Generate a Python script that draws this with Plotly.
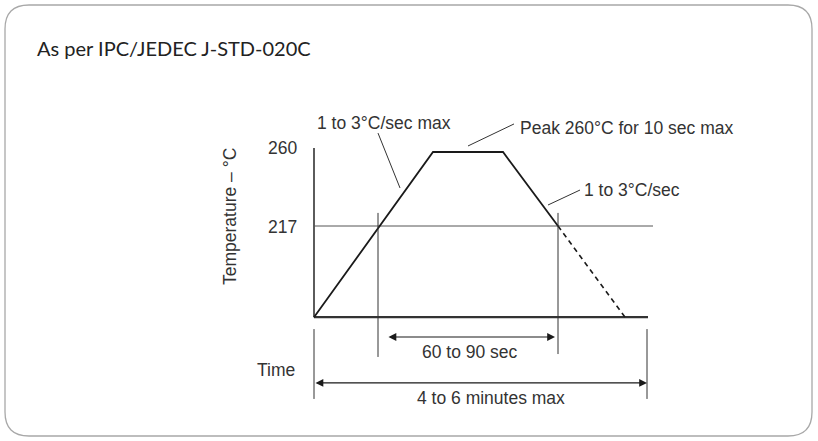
import plotly.graph_objects as go

# ---------------- data (schematic units: time t, temperature °C) ----------------
profile_time = [0, 119, 189, 244]
profile_temp = [164, 260, 260, 217]
cool_time = [244, 311]
cool_temp = [217, 164]
base_temp = 164
liquidus_temp = 217
peak_temp = 260
time_end = 334
liquidus_end = 339
tal_start, tal_end = 64, 244          # time above liquidus markers
total_start, total_end = 0, 333        # total profile markers
tick_vals = [260, 217]
tick_text = ["260", "217"]

title_text = "As per IPC/JEDEC J-STD-020C"
ramp_up_text = "1 to 3°C/sec max"
peak_text = "Peak 260°C for 10 sec max"
ramp_down_text = "1 to 3°C/sec"
tal_text = "60 to 90 sec"
total_text = "4 to 6 minutes max"
ylabel_text = "Temperature – °C"
xlabel_text = "Time"

# ---------------- figure geometry ----------------
W, H = 818, 441
X_RANGE = [-314, 504]
PX_PER_DEG = 74 / 43
Y_RANGE = [260 - (H - 152) / PX_PER_DEG, 260 + 152 / PX_PER_DEG]

LINE = "#1a1a1a"
GREY = "#555555"
TXT = "#333333"
FONT = "Liberation Sans"
FS = 17.5

fig = go.Figure()


def seg(xs, ys, color=LINE, width=1.2, dash="solid"):
    fig.add_trace(go.Scatter(x=xs, y=ys, mode="lines", hoverinfo="skip",
                             line=dict(color=color, width=width, dash=dash),
                             showlegend=False))


# axes of the diagram
seg([0, 0], [base_temp, peak_temp + 2.3], width=1.6, color="#333333")
seg([0, time_end], [base_temp, base_temp], width=2.2, color="#333333")
seg([0, liquidus_end], [liquidus_temp, liquidus_temp], width=1.0, color=GREY)

# profile
seg(profile_time, profile_temp, width=1.8)
seg(cool_time, cool_temp, width=1.6, dash="5px,4px")

# marker verticals
seg([tal_start, tal_start], [224.6, 140.9], width=1.0, color="#333333")
seg([tal_end, tal_end], [224.6, 142.6], width=1.0, color="#333333")
seg([total_start, total_start], [157.1, 116.5], width=1.0, color="#333333")
seg([total_end, total_end], [157.1, 116.5], width=1.0, color="#333333")

# leader lines
seg([64, 86], [271.0, 239.1], width=1.0, color="#333333")
seg([154, 200], [263.5, 276.3], width=1.0, color="#333333")
seg([234, 266], [229.2, 237.9], width=1.0, color="#333333")

annotations = []


def text(x, y, s, size=FS, xanchor="center", angle=0, color=TXT, family=FONT):
    annotations.append(dict(x=x, y=y, xref="x", yref="y", text=s, showarrow=False,
                            xanchor=xanchor, yanchor="middle", textangle=angle,
                            font=dict(family=family, size=size, color=color)))


def darrow(x0, x1, y):
    annotations.append(dict(x=x1, y=y, ax=x0, ay=y, xref="x", yref="y",
                            axref="x", ayref="y", text="", showarrow=True,
                            arrowhead=2, arrowside="end+start", arrowsize=1.3,
                            arrowwidth=1.2, arrowcolor=LINE))


darrow(73, 241, 152.5)
darrow(total_start, total_end, 125.8)

text(-279, 320.4, title_text, size=20, xanchor="left", color="#222222", family="Lato")
text(70, 276.6, ramp_up_text)
text(204, 273.7, peak_text, xanchor="left")
text(268, 237.9, ramp_down_text, xanchor="left")
for v, t in zip(tick_vals, tick_text):
    text(-32, v + 2.3 if v == 260 else v - 0.3, t)
text(-84, 222.2, ylabel_text, angle=-90)
text(-38, 133.3, xlabel_text)
text(156, 143.5, tal_text)
text(177, 117.0, total_text)

# rounded border (pixel spec converted to paper)
def px(x):
    return x / W


def py(y):
    return 1 - y / H


L, T, R, B, r = 5, 5, 812, 436, 24
path = (f"M {px(L + r)},{py(T)} L {px(R - r)},{py(T)} Q {px(R)},{py(T)} {px(R)},{py(T + r)} "
        f"L {px(R)},{py(B - r)} Q {px(R)},{py(B)} {px(R - r)},{py(B)} "
        f"L {px(L + r)},{py(B)} Q {px(L)},{py(B)} {px(L)},{py(B - r)} "
        f"L {px(L)},{py(T + r)} Q {px(L)},{py(T)} {px(L + r)},{py(T)} Z")

fig.update_layout(
    width=W, height=H, margin=dict(l=0, r=0, t=0, b=0),
    paper_bgcolor="white", plot_bgcolor="white",
    xaxis=dict(range=X_RANGE, visible=False, fixedrange=True),
    yaxis=dict(range=Y_RANGE, visible=False, fixedrange=True),
    annotations=annotations,
    shapes=[dict(type="path", path=path, xref="paper", yref="paper",
                 line=dict(color="#a8a8a8", width=1.3), layer="below")],
)

fig.write_html("out.html", config={"displayModeBar": False},
               post_script="document.body.style.margin='0';")
